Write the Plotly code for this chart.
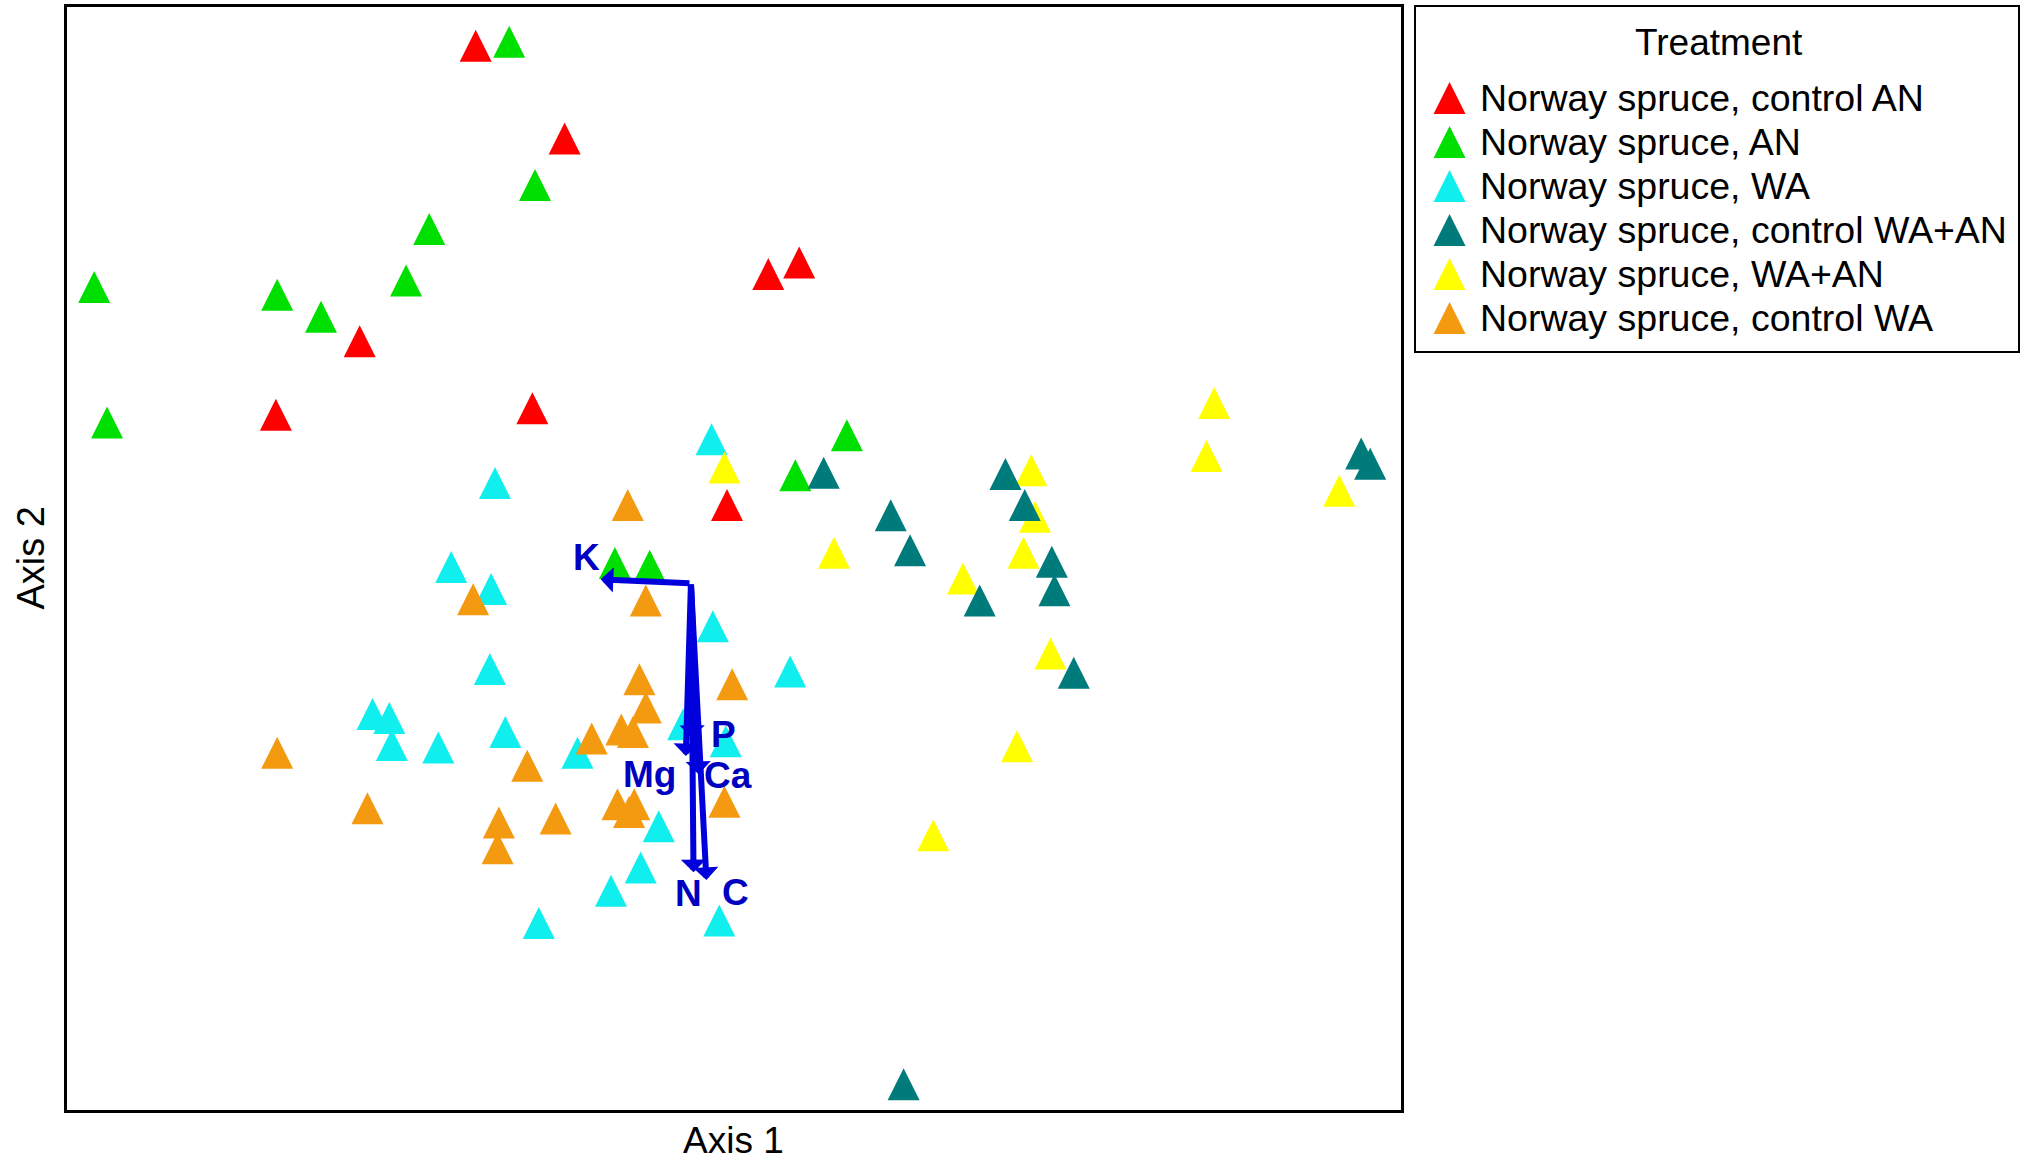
import plotly.graph_objects as go

# ---------------- data (ordination scores; y grows downward) -------------
treatments = [
    "Norway spruce, control AN",
    "Norway spruce, AN",
    "Norway spruce, WA",
    "Norway spruce, control WA+AN",
    "Norway spruce, WA+AN",
    "Norway spruce, control WA",
]
colors = ["#FF0000", "#00E000", "#11EEEE", "#007B7B", "#FFFF00", "#F49A10"]

ctrl_an_x = [369, 438, 596, 620, 279, 214, 413, 564]
ctrl_an_y = [23, 95, 200, 191, 252, 309, 304, 379]

an_x = [395, 415, 333, 315, 73, 215, 249, 83, 657, 617, 477, 504]
an_y = [20, 131, 165, 205, 210, 216, 233, 315, 325, 356, 424, 426]

wa_x = [552, 384, 350, 381, 553, 380, 613, 289, 302, 304, 340, 392, 448, 530, 563, 511, 497, 474, 418, 558]
wa_y = [328, 362, 427, 444, 473, 506, 508, 541, 544, 565, 567, 555, 571, 549, 562, 628, 660, 678, 703, 701]

ctrl_waan_x = [639, 780, 795, 691, 706, 816, 818, 760, 833, 1056, 1063, 701]
ctrl_waan_y = [354, 355, 379, 387, 414, 423, 445, 453, 509, 339, 347, 828]

waan_x = [562, 800, 803, 647, 794, 747, 815, 789, 724, 942, 936, 1039]
waan_y = [350, 352, 388, 416, 416, 436, 494, 566, 635, 300, 341, 368]

ctrl_wa_x = [487, 367, 501, 496, 568, 501, 482, 491, 459, 409, 215, 285, 387, 386, 431, 479, 492, 488, 562]
ctrl_wa_y = [379, 452, 453, 514, 518, 536, 553, 555, 560, 581, 571, 614, 625, 645, 622, 611, 611, 617, 609]

# biplot vectors (joint plot of elements)
vec_labels = ["K", "P", "Mg", "Ca", "N", "C"]
vec_origin = (536, 452)
vec_x = [466, 537, 532, 542, 538, 548]
vec_y = [449, 572, 586, 600, 676, 682]

series_x = [ctrl_an_x, an_x, wa_x, ctrl_waan_x, waan_x, ctrl_wa_x]
series_y = [ctrl_an_y, an_y, wa_y, ctrl_waan_y, waan_y, ctrl_wa_y]

# ---------------- styling -------------
FONT = "Liberation Sans, Arial, sans-serif"
MSIZE = 32
draw_order = [0, 1, 2, 4, 3, 5]
label_shift = {"K": (-14, 22), "P": (31, 4), "Mg": (-36, -18), "Ca": (29, -1), "N": (-5, -21), "C": (29, -13)}
ARROW_COLOR = "#0000DD"
LABEL_COLOR = "#0000C0"

fig = go.Figure()

for i in draw_order:
    fig.add_trace(go.Scatter(
        x=series_x[i], y=series_y[i], mode="markers", name=treatments[i],
        marker=dict(symbol="arrow-up", size=MSIZE, color=colors[i], line=dict(width=0)),
        showlegend=False, xaxis="x", yaxis="y", cliponaxis=False,
    ))

annotations = []
for lab, tx, ty in zip(vec_labels, vec_x, vec_y):
    annotations.append(dict(
        x=tx, y=ty, ax=vec_origin[0], ay=vec_origin[1], xref="x", yref="y", axref="x", ayref="y",
        text="", showarrow=True, arrowhead=1, arrowsize=0.7, arrowwidth=6, arrowcolor=ARROW_COLOR,
    ))
for lab, tx, ty in zip(vec_labels, vec_x, vec_y):
    sx, sy = label_shift[lab]
    annotations.append(dict(
        x=tx, y=ty, xref="x", yref="y", text=lab, showarrow=False, xshift=sx, yshift=sy,
        xanchor="center", yanchor="middle",
        font=dict(family=FONT, size=37, color=LABEL_COLOR, weight="bold"),
    ))

# axis titles
annotations.append(dict(text="Axis 1", xref="x domain", yref="y domain", x=0.5, y=-0.0281,
                        xanchor="center", yanchor="middle",
                        showarrow=False, font=dict(family=FONT, size=37, color="black")))
annotations.append(dict(text="Axis 2", xref="x domain", yref="y domain", x=-0.0277, y=0.5,
                        xanchor="center", yanchor="middle",
                        textangle=-90, showarrow=False, font=dict(family=FONT, size=38, color="black")))

# ---------------- custom legend panel (x2/y2 in pixel-like units) -------------
LEG_X_MARK, LEG_X_TEXT, LEG_ROW0, LEG_STEP = 1451, 1479, 98, 44
leg_rows = [LEG_ROW0 + LEG_STEP * k for k in range(len(treatments))]
fig.add_trace(go.Scatter(
    x=[LEG_X_MARK] * len(treatments), y=[r - MSIZE / 2 for r in leg_rows], mode="markers",
    marker=dict(symbol="arrow-up", size=MSIZE, color=colors, line=dict(width=0)),
    showlegend=False, xaxis="x2", yaxis="y2", hoverinfo="skip", cliponaxis=False,
))
for name, r in zip(treatments, leg_rows):
    annotations.append(dict(text=name, xref="x2", yref="y2", x=LEG_X_TEXT, y=r, xanchor="left",
                            yanchor="middle", showarrow=False,
                            font=dict(family=FONT, size=37.5, color="black")))
annotations.append(dict(text="Treatment", xref="x2", yref="y2", x=1721, y=42, showarrow=False,
                        xanchor="center", yanchor="middle",
                        font=dict(family=FONT, size=37, color="black")))

W, H = 2023, 1166
ML, MR, MT, MB = 67, 3, 7, 56
plot_w = W - ML - MR
plot_h = H - MT - MB

ax_common = dict(showgrid=False, zeroline=False, showticklabels=False, ticks="",
                 showline=True, mirror=True, linecolor="black")

fig.update_layout(
    width=W, height=H,
    margin=dict(l=ML, r=MR, t=MT, b=MB),
    paper_bgcolor="white", plot_bgcolor="white",
    showlegend=False,
    xaxis=dict(domain=[0, (1402 - ML) / plot_w], range=[51.93, 1086.6], linewidth=3, **ax_common),
    yaxis=dict(domain=[0, 1], range=[860.3, 5.4], linewidth=3, **ax_common),
    xaxis2=dict(domain=[(1417 - ML) / plot_w, 1], range=[1417, 2020], anchor="y2", linewidth=1.5, **ax_common),
    yaxis2=dict(domain=[(1110 - 351) / plot_h, 1], range=[351, 7], anchor="x2", linewidth=1.5, **ax_common),
    annotations=annotations,
    font=dict(family=FONT),
)

fig.write_html("out.html")
